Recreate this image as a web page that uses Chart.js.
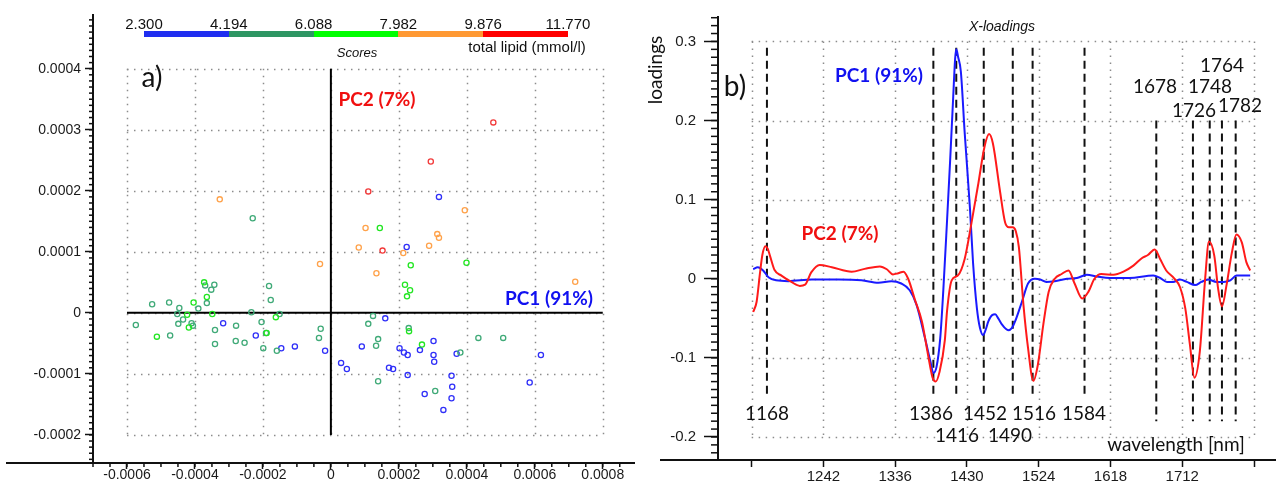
<!DOCTYPE html>
<html>
<head>
<meta charset="utf-8">
<script src="https://cdn.jsdelivr.net/npm/chart.js@4.4.0/dist/chart.umd.min.js"></script>
<style>
body{margin:0;background:#fff;}
#wrap{position:relative;width:1278px;height:483px;overflow:hidden;}
canvas{position:absolute;top:0;}
.t{position:absolute;white-space:nowrap;line-height:1;transform:translate(-50%,-50%);font-family:Lato,"Open Sans",sans-serif;color:#111;}
.pk{font-size:19px;}
.pc{font-weight:bold;font-size:19px;}
.ar{font-family:"Liberation Sans",Arial,sans-serif;}
#cbar{position:absolute;left:144px;top:31px;width:424px;height:6px;display:flex;}
#cbar div{flex:1;}
</style>
</head>
<body>
<div id="wrap">
  <canvas id="scores" width="640" height="483" style="left:0"></canvas>
  <canvas id="loadings" width="638" height="483" style="left:640px"></canvas>

  <div id="cbar"></div>
  <div class="t ar" style="left:527px;top:46px;font-size:15px">total lipid (mmol/l)</div>
  <div class="t ar" style="left:357px;top:52px;font-size:13px;font-style:italic">Scores</div>
  <div class="t" style="left:152px;top:76px;font-size:28px">a)</div>
  <div class="t pc" style="left:377px;top:98px;color:#f01010">PC2 (7%)</div>
  <div class="t pc" style="left:549px;top:297px;color:#1010f0">PC1 (91%)</div>

  <div class="t" style="left:735px;top:85px;font-size:28px">b)</div>
  <div class="t" style="left:654px;top:70px;font-size:19px;transform:translate(-50%,-50%) rotate(-90deg)">loadings</div>
  <div class="t ar" style="left:1002px;top:26px;font-size:14px;font-style:italic">X-loadings</div>
  <div class="t pc" style="left:879px;top:74px;color:#1010f0">PC1 (91%)</div>
  <div class="t pc" style="left:840px;top:232px;color:#f01010">PC2 (7%)</div>
  <div class="t" style="left:1176px;top:443px;font-size:19px">wavelength [nm]</div>

  <div class="t pk" style="left:767px;top:412px">1168</div>
  <div class="t pk" style="left:931px;top:412px">1386</div>
  <div class="t pk" style="left:957px;top:434px">1416</div>
  <div class="t pk" style="left:985px;top:412px">1452</div>
  <div class="t pk" style="left:1010px;top:434px">1490</div>
  <div class="t pk" style="left:1034px;top:412px">1516</div>
  <div class="t pk" style="left:1084px;top:412px">1584</div>
  <div class="t pk" style="left:1155px;top:85px">1678</div>
  <div class="t pk" style="left:1210px;top:85px">1748</div>
  <div class="t pk" style="left:1194px;top:109px">1726</div>
  <div class="t pk" style="left:1240px;top:104px">1782</div>
  <div class="t pk" style="left:1222px;top:64px">1764</div>
</div>
<script>
// ---- scores (PC1, PC2) by total lipid class ----
const scoresBlue = [[-0.000317,-0.000017],[-0.000221,-0.000037],[-0.000146,-0.000058],[-0.000106,-0.000055],[-0.000017,-0.000062],
  [0.000318,0.00019],[0.000223,0.000108],[0.00016,-0.000009],[0.000091,-0.000055],[0.000302,-0.000046],[0.000202,-0.000058],
  [0.000262,-0.000061],[0.000215,-0.000065],[0.000226,-0.000069],[0.000302,-0.000069],[0.00037,-0.000067],[0.000304,-0.00008],
  [0.000618,-0.000069],[0.00003,-0.000082],[0.000047,-0.000092],[0.000171,-0.00009],[0.000183,-0.000092],[0.000226,-0.000102],
  [0.000355,-0.000103],[0.000585,-0.000114],[0.000357,-0.000121],[0.000276,-0.000133],[0.000355,-0.00014],[0.000331,-0.000159]];
const scoresSea = [[-0.00023,0.000155],[-0.00037,0.000045],[-0.000343,0.000046],[-0.000352,0.000038],[-0.000365,0.000016],
  [-0.000182,0.000044],[-0.000177,0.000021],[-0.000526,0.000014],[-0.000476,0.000017],[-0.000446,0.000008],[-0.00039,0.000007],
  [-0.000452,-0.000002],[-0.000234,0.000001],[-0.000151,-0.000002],[-0.000574,-0.00002],[-0.000449,-0.000018],[-0.000435,-0.000011],
  [-0.00041,-0.000017],[-0.000406,-0.000021],[-0.000279,-0.000021],[-0.000204,-0.000015],[-0.000341,-0.000028],[-0.000473,-0.000037],
  [-0.000191,-0.000033],[-0.000341,-0.000051],[-0.00028,-0.000046],[-0.000254,-0.000049],[-0.000199,-0.000058],[-0.000159,-0.000062],
  [-0.00003,-0.000026],[-0.000035,-0.000041],[0.000124,-0.000005],[0.00011,-0.000018],[0.000229,-0.000025],[0.000139,-0.000043],
  [0.000133,-0.000054],[0.000434,-0.000041],[0.000507,-0.000041],[0.000381,-0.000065],[0.000139,-0.000112],[0.000307,-0.000128]];
const scoresLime = [[-0.000373,0.00005],[-0.000365,0.000026],[-0.000404,0.000017],[-0.000423,-0.000003],[-0.000349,-0.000002],
  [-0.000162,-0.000007],[-0.000418,-0.000024],[-0.000512,-0.000039],[-0.000189,-0.000033],[0.000144,0.000139],[0.000235,0.000078],
  [0.000399,0.000082],[0.000218,0.000046],[0.000233,0.000037],[0.000224,0.000027],[0.00023,-0.00003],[0.000268,-0.000052]];
const scoresOrange = [[-0.000327,0.000186],[-0.000032,0.00008],[0.000394,0.000168],[0.000102,0.000139],[0.000313,0.000129],
  [0.000318,0.000123],[0.000289,0.00011],[0.000082,0.000107],[0.000213,0.000098],[0.000134,0.000065],[0.000719,0.000051]];
const scoresRed = [[0.000478,0.000312],[0.000294,0.000248],[0.00011,0.000199],[0.000152,0.000102]];

const scoreTicksX = [-0.0006, -0.0004, -0.0002, 0, 0.0002, 0.0004, 0.0006, 0.0008];
const scoreTicksY = [-0.0002, -0.0001, 0, 0.0001, 0.0002, 0.0003, 0.0004];
const lipidLevels = ['2.300', '4.194', '6.088', '7.982', '9.876', '11.770'];

// ---- X-loadings ----
const wlPC1 = [1150,1156,1163,1170,1180,1196,1227,1262,1292,1314,1331,1344,1355,1364,1375,1382,1386,1390,1395,1399,
  1404,1408,1412,1414.5,1416,1418.5,1422,1427,1434,1438,1443,1447,1451,1454,1458,1463,1467,1471,1476,1484,1489,1493,
  1502,1510,1519,1526,1534,1545,1561,1574,1587,1600,1617,1643,1674,1683,1692,1700,1709,1718,1729,1737,1746,1757,1766,
  1775,1783,1801];
const loadPC1 = [0.012,0.0145,0.0105,0.002,-0.002,-0.003,-0.001,-0.001,-0.002,-0.005,-0.003,-0.006,-0.0145,-0.033,-0.075,
  -0.104,-0.119,-0.112,-0.075,-0.015,0.075,0.15,0.23,0.278,0.29,0.28,0.262,0.185,0.088,0.02,-0.037,-0.062,-0.071,-0.066,
  -0.054,-0.046,-0.045,-0.05,-0.058,-0.065,-0.062,-0.054,-0.029,-0.006,0,-0.001,-0.004,-0.003,0,0.001,0.005,0.003,0.001,
  0.001,0.004,0.001,-0.004,-0.004,-0.001,-0.004,-0.008,-0.004,-0.001,-0.004,-0.004,-0.002,0.004,0.004];
const wlPC2 = [1150,1154.5,1159,1162,1166,1169,1172,1178,1187,1200,1211,1218,1226,1237,1253,1279,1296,1316,1325,1333,
  1340,1347,1353,1362,1371,1379,1385,1389,1394,1401,1404,1410,1418,1427,1436,1445,1453,1459,1464,1473,1480,1485,1490,
  1494,1498,1504,1510,1517,1523,1530,1537,1545,1554,1563,1571,1581,1589,1597,1606,1622,1635,1648,1659,1667,1676,1683,
  1691,1702,1709,1716,1722,1728,1735,1742,1747,1754,1759,1764,1770,1777,1783,1790,1796,1801];
const loadPC2 = [-0.042,-0.029,0.008,0.03,0.041,0.038,0.029,0.011,0.004,-0.004,-0.009,-0.0075,0.008,0.0175,0.0146,0.009,
  0.0125,0.0155,0.012,0.0055,0.007,0.009,0,-0.027,-0.054,-0.096,-0.125,-0.13,-0.118,-0.078,-0.04,-0.002,0.004,0.025,0.071,
  0.121,0.167,0.183,0.171,0.1125,0.071,0.065,0.065,0.06,0.04,-0.033,-0.0875,-0.129,-0.108,-0.058,-0.0166,0,0.006,0.0105,
  -0.006,-0.025,-0.0166,0,0.006,0.005,0.009,0.0166,0.026,0.03,0.037,0.025,0.0105,0,-0.0104,-0.0375,-0.083,-0.125,-0.092,
  0,0.047,0.029,-0.0125,-0.035,-0.008,0.033,0.056,0.046,0.021,0.0105];
const wlTicks = [1148, 1242, 1336, 1430, 1524, 1618, 1712, 1806];
const wlTickLabels = ['', '1242', '1336', '1430', '1524', '1618', '1712', ''];
const loadTicks = [-0.2, -0.1, 0, 0.1, 0.2, 0.3];
const peaksLow = [1168, 1386, 1416, 1452, 1490, 1516, 1584];
const peaksHigh = [1678, 1726, 1748, 1764, 1782];

const classColors = ['#1f2ef0', '#2e9663', '#00ff00', '#ff9933', '#ff0000'];
const markColors = ['#3030f8', '#40aa78', '#22e622', '#ffa24a', '#f23a3a'];

// colorbar
const cbar = document.getElementById('cbar');
classColors.forEach(c => { const d = document.createElement('div'); d.style.background = c; cbar.appendChild(d); });
lipidLevels.forEach((txt, i) => {
  const d = document.createElement('div');
  d.className = 't ar';
  d.style.left = (144 + i * 424 / 5) + 'px';
  d.style.top = '23px';
  d.style.fontSize = '15px';
  d.textContent = txt;
  document.getElementById('wrap').appendChild(d);
});

Chart.defaults.font.family = '"Liberation Sans", Arial, sans-serif';
Chart.defaults.color = '#1a1a1a';

function line(ctx, x1, y1, x2, y2) {
  ctx.beginPath(); ctx.moveTo(x1, y1); ctx.lineTo(x2, y2); ctx.stroke();
}

// dotted grid in the inner box, minor ticks, extra lines
const framePlugin = {
  id: 'frame',
  beforeDatasetsDraw(chart, args, o) {
    const ctx = chart.ctx, xs = chart.scales.x, ys = chart.scales.y;
    const xa = xs.getPixelForValue(o.xTicks[0]), xb = xs.getPixelForValue(o.xTicks[o.xTicks.length - 1]);
    const ya = ys.getPixelForValue(o.yTicks[0]), yb = ys.getPixelForValue(o.yTicks[o.yTicks.length - 1]);
    ctx.save();
    ctx.strokeStyle = '#8c8c8c';
    ctx.lineWidth = 1.5;
    ctx.setLineDash([1.5, 5.5]);
    o.xTicks.forEach(v => { const x = Math.round(xs.getPixelForValue(v)) + 0.5; line(ctx, x, yb, x, ya); });
    o.yTicks.forEach(v => { const y = Math.round(ys.getPixelForValue(v)) + 0.5; line(ctx, xa, y, xb, y); });
    ctx.restore();
    if (o.extra) o.extra(chart, ctx, xs, ys);
  },
  afterDraw(chart, args, o) {
    const ctx = chart.ctx, xs = chart.scales.x, ys = chart.scales.y, a = chart.chartArea;
    ctx.save();
    ctx.strokeStyle = '#111';
    ctx.lineWidth = 1.5;
    for (let k = Math.ceil(ys.min / o.yMinor); k * o.yMinor <= ys.max; k++) {
      const y = ys.getPixelForValue(k * o.yMinor);
      line(ctx, a.left - o.yMinorLen, y, a.left, y);
    }
    for (let k = Math.ceil(xs.min / o.xMinor); k * o.xMinor <= xs.max; k++) {
      const x = xs.getPixelForValue(k * o.xMinor);
      line(ctx, x, a.bottom, x, a.bottom + o.xMinorLen);
    }
    ctx.lineWidth = 2;
    line(ctx, o.axisStart, a.bottom, a.left, a.bottom);
    ctx.restore();
  }
};

function axisOpts(min, max, ticks, labels, fit, tickLen, pad, size) {
  return {
    type: 'linear', min: min, max: max,
    afterBuildTicks: ax => { ax.ticks = ticks.map(v => ({ value: v })); },
    afterFit: fit,
    grid: { drawOnChartArea: false, tickLength: tickLen, tickWidth: 1.5, tickColor: '#111' },
    border: { color: '#111', width: 2 },
    ticks: { autoSkip: false, maxRotation: 0, padding: pad, font: { size: size },
      callback: (v, i) => labels ? labels[i] : String(v) }
  };
}

// ---- a) scores ----
const scoreGroups = [scoresRed, scoresOrange, scoresLime, scoresSea, scoresBlue];
const groupColors = [markColors[4], markColors[3], markColors[2], markColors[1], markColors[0]];
new Chart(document.getElementById('scores'), {
  type: 'scatter',
  data: {
    datasets: scoreGroups.map((g, i) => ({
      data: g.map(p => ({ x: p[0], y: p[1] })),
      pointRadius: 2.6, pointBorderWidth: 1.3,
      pointBorderColor: groupColors[i], pointBackgroundColor: 'rgba(255,255,255,0)'
    }))
  },
  options: {
    responsive: false, animation: false, devicePixelRatio: 1,
    layout: { padding: { top: 15, right: 5, left: 0, bottom: 0 } },
    plugins: {
      legend: { display: false }, tooltip: { enabled: false },
      frame: {
        xTicks: scoreTicksX, yTicks: scoreTicksY,
        xMinor: 0.00005, yMinor: 0.00001, xMinorLen: 4, yMinorLen: 4, axisStart: 6,
        extra: (chart, ctx, xs, ys) => {
          ctx.save();
          ctx.strokeStyle = '#000'; ctx.lineWidth = 2;
          const x0 = xs.getPixelForValue(0), y0 = ys.getPixelForValue(0);
          line(ctx, x0, ys.getPixelForValue(scoreTicksY[scoreTicksY.length - 1]), x0, ys.getPixelForValue(scoreTicksY[0]));
          line(ctx, xs.getPixelForValue(scoreTicksX[0]), y0, xs.getPixelForValue(scoreTicksX[scoreTicksX.length - 1]), y0);
          ctx.restore();
        }
      }
    },
    scales: {
      x: axisOpts(-0.0007, 0.000894, scoreTicksX, null, s => { s.height = 20; }, 6, -2, 14),
      y: axisOpts(-0.000246, 0.000488, scoreTicksY, null, s => { s.width = 93; }, 8, 4, 14)
    }
  },
  plugins: [framePlugin]
});

// ---- b) X-loadings ----
new Chart(document.getElementById('loadings'), {
  type: 'scatter',
  data: {
    datasets: [
      { data: wlPC2.map((w, i) => ({ x: w, y: loadPC2[i] })), showLine: true, pointRadius: 0,
        borderColor: '#ff1a1a', borderWidth: 2, cubicInterpolationMode: 'monotone' },
      { data: wlPC1.map((w, i) => ({ x: w, y: loadPC1[i] })), showLine: true, pointRadius: 0,
        borderColor: '#1a1aff', borderWidth: 2, cubicInterpolationMode: 'monotone' }
    ]
  },
  options: {
    responsive: false, animation: false, devicePixelRatio: 1,
    layout: { padding: { top: 12, right: 3, left: 0, bottom: 0 } },
    plugins: {
      legend: { display: false }, tooltip: { enabled: false },
      frame: {
        xTicks: wlTicks, yTicks: loadTicks,
        xMinor: 1000, yMinor: 0.01, xMinorLen: 0, yMinorLen: 7, axisStart: 20,
        extra: (chart, ctx, xs, ys) => {
          ctx.save();
          ctx.strokeStyle = '#111'; ctx.lineWidth = 2; ctx.setLineDash([8, 5]);
          peaksLow.forEach(p => { const x = xs.getPixelForValue(p); line(ctx, x, ys.getPixelForValue(0.292), x, ys.getPixelForValue(-0.15)); });
          peaksHigh.forEach(p => { const x = xs.getPixelForValue(p); line(ctx, x, ys.getPixelForValue(0.2), x, ys.getPixelForValue(-0.18)); });
          ctx.restore();
        }
      }
    },
    scales: {
      x: axisOpts(1103.9, 1833.5, wlTicks, wlTickLabels, s => { s.height = 23; }, 7, 1, 15),
      y: axisOpts(-0.2291, 0.3309, loadTicks, null, s => { s.width = 78; }, 14, 8, 15)
    }
  },
  plugins: [framePlugin]
});
</script>
</body>
</html>
